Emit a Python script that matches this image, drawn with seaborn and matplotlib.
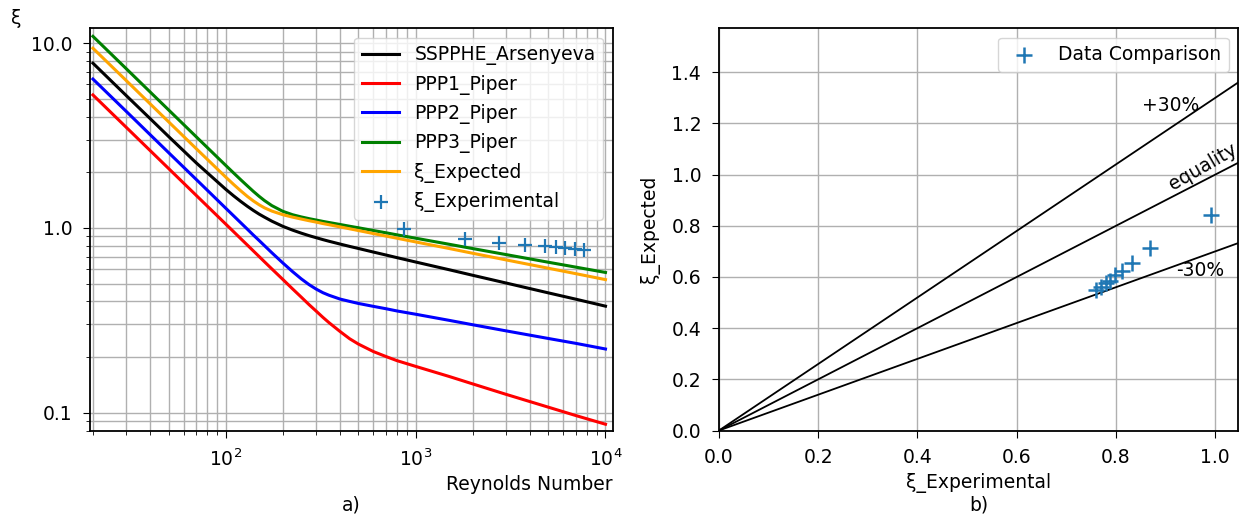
import numpy as np
import pandas as pd
import matplotlib
matplotlib.use("Agg")
from matplotlib import pyplot as plt
from matplotlib.ticker import FormatStrFormatter, MultipleLocator
import seaborn as sns

# ---- panel a) friction factor vs Reynolds number (values read off the chart) ----
re_grid = [20, 30, 40, 50, 70, 100, 110, 120, 130, 140, 150, 160, 175, 200, 225,
           250, 275, 300, 325, 350, 400, 450, 500, 600, 700, 800,
           1000, 1500, 2000, 3000, 5000, 7000, 10000]
xi_sspphe = [7.8, 5.2, 3.91, 3.13, 2.25, 1.62, 1.493, 1.392, 1.31, 1.243, 1.188,
             1.144, 1.088, 1.02, 0.973, 0.937, 0.908, 0.885, 0.8645, 0.847, 0.818,
             0.794, 0.774, 0.740, 0.713, 0.690,
             0.654, 0.594, 0.554, 0.503, 0.445, 0.411, 0.377]
xi_ppp1 = [5.25, 3.5, 2.625, 2.1, 1.5, 1.05, 0.955, 0.875, 0.808, 0.75, 0.70,
           0.656, 0.600, 0.526, 0.4677, 0.422, 0.384, 0.354, 0.328, 0.307, 0.275,
           0.251, 0.235, 0.214, 0.201, 0.191,
           0.178, 0.157, 0.143, 0.1255, 0.107, 0.0963, 0.0865]
xi_ppp2 = [6.4, 4.27, 3.2, 2.56, 1.83, 1.28, 1.164, 1.067, 0.985, 0.914, 0.855,
           0.802, 0.734, 0.646, 0.58, 0.53, 0.493, 0.466, 0.446, 0.432, 0.412,
           0.400, 0.390, 0.376, 0.365, 0.355,
           0.341, 0.316, 0.299, 0.277, 0.252, 0.237, 0.221]
xi_ppp3 = [10.9, 7.27, 5.45, 4.36, 3.114, 2.182, 1.986, 1.824, 1.69, 1.576, 1.483,
           1.407, 1.321, 1.23, 1.179, 1.147, 1.1225, 1.103, 1.085, 1.070, 1.044,
           1.021, 1.002, 0.968, 0.941, 0.917,
           0.88, 0.816, 0.773, 0.717, 0.652, 0.613, 0.574]
xi_expected = [9.4, 6.27, 4.7, 3.76, 2.686, 1.886, 1.721, 1.589, 1.482, 1.399, 1.335,
               1.285, 1.234, 1.179, 1.144, 1.117, 1.094, 1.075, 1.056, 1.041, 1.013,
               0.989, 0.968, 0.932, 0.903, 0.879,
               0.84, 0.774, 0.729, 0.671, 0.605, 0.565, 0.525]

re_exp = [870, 1810, 2750, 3770, 4800, 5500, 6100, 6900, 7700]
xi_exp = [0.99, 0.87, 0.833, 0.813, 0.799, 0.789, 0.779, 0.769, 0.759]

# ---- panel b) expected vs experimental ----
cmp_exp = [0.991, 0.869, 0.833, 0.813, 0.799, 0.789, 0.779, 0.769, 0.759]
cmp_expected = [0.842, 0.714, 0.656, 0.625, 0.606, 0.586, 0.575, 0.560, 0.548]
band_factors = [1.3, 1.0, 0.7]

CURVES = [
    ("SSPPHE_Arsenyeva", xi_sspphe, "black"),
    ("PPP1_Piper", xi_ppp1, "red"),
    ("PPP2_Piper", xi_ppp2, "blue"),
    ("PPP3_Piper", xi_ppp3, "green"),
    ("ξ_Expected", xi_expected, "orange"),
]

FS = 13.5
plt.rcParams["font.size"] = FS
plt.rcParams["xtick.major.size"] = 5.3
plt.rcParams["ytick.major.size"] = 5.3
plt.rcParams["xtick.minor.size"] = 3.2
plt.rcParams["ytick.minor.size"] = 3.2
plt.rcParams["xtick.major.pad"] = 7.5
plt.rcParams["ytick.major.pad"] = 7.5
plt.rcParams["xtick.minor.pad"] = 7.5
plt.rcParams["ytick.minor.pad"] = 7.5

W, H = 1240, 515
fig = plt.figure(figsize=(W / 100, H / 100), dpi=100)
ax1 = fig.add_axes([90 / W, 1 - 430.5 / H, 522.6 / W, 402.2 / H])
ax2 = fig.add_axes([719 / W, 1 - 430.5 / H, 519 / W, 402.2 / H])

# ----- a) -----
for name, vals, col in CURVES:
    d = pd.DataFrame({"Re": re_grid, "xi": vals})
    sns.lineplot(data=d, x="Re", y="xi", ax=ax1, color=col, lw=2.2, label=name)
sns.scatterplot(x=re_exp, y=xi_exp, ax=ax1, marker="+", s=90, linewidth=1.6,
                color="#1f77b4", label="ξ_Experimental", zorder=5)
ax1.set_xscale("log")
ax1.set_yscale("log")
ax1.set_xlim(19.3, 10900)
ax1.set_ylim(0.08, 12.05)
ax1.yaxis.set_major_formatter(FormatStrFormatter("%.1f"))
ax1.grid(True, which="both", color="#b0b0b0", lw=1.0)
ax1.set_axisbelow(True)
ax1.set_xlabel("Reynolds Number", loc="right")
ax1.set_ylabel("")
ax1.legend(loc="upper right", framealpha=0.8, fontsize=FS)
fig.text(16 / W, 1 - 19 / H, "ξ", ha="center", va="center", fontsize=FS)
fig.text((90 + 612.6) / 2 / W, 1 - 505 / H, "a)", ha="center", va="center", fontsize=FS)

# ----- b) -----
for k in band_factors:
    ax2.axline((0, 0), slope=k, color="black", lw=1.3)
sns.scatterplot(x=cmp_exp, y=cmp_expected, ax=ax2, marker="+", s=130, linewidth=1.8,
                color="#1f77b4", label="Data Comparison", zorder=5)
ax2.set_xlim(0, 1.046)
ax2.set_ylim(0, 1.572)
ax2.xaxis.set_major_locator(MultipleLocator(0.2))
ax2.yaxis.set_major_locator(MultipleLocator(0.2))
ax2.xaxis.set_major_formatter(FormatStrFormatter("%.1f"))
ax2.yaxis.set_major_formatter(FormatStrFormatter("%.1f"))
ax2.grid(True, color="#b0b0b0", lw=1.0)
ax2.set_axisbelow(True)
ax2.set_xlabel("ξ_Experimental")
ax2.set_ylabel("ξ_Expected", labelpad=8)
ax2.text(0.853, 1.272, "+30%", ha="left", va="center", fontsize=FS)
ax2.text(0.975, 1.03, "equality", ha="center", va="center", rotation=30, fontsize=FS)
ax2.text(0.921, 0.625, "-30%", ha="left", va="center", fontsize=FS)
ax2.legend(loc="upper right", framealpha=0.8, fontsize=FS)
fig.text((719 + 1238) / 2 / W, 1 - 505 / H, "b)", ha="center", va="center", fontsize=FS)

for ax in (ax1, ax2):
    for sp_ in ax.spines.values():
        sp_.set_linewidth(1.3)

fig.savefig("out.png", dpi=100)
